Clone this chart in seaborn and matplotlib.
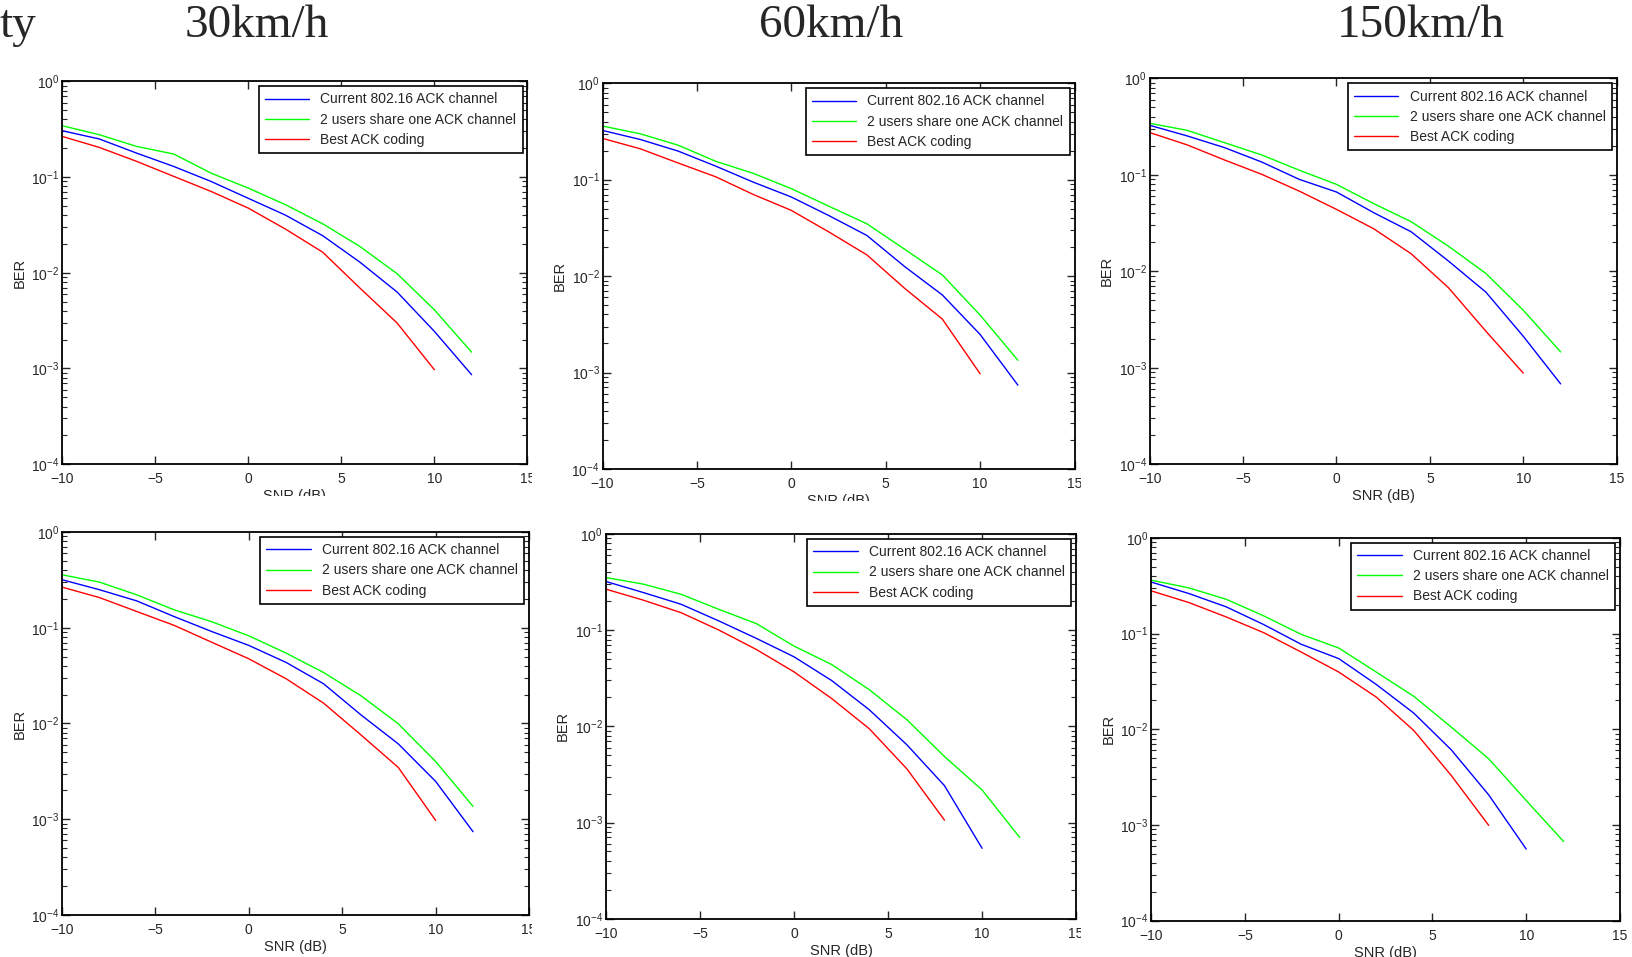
import numpy as np
import pandas as pd
import matplotlib
matplotlib.use('Agg')
import matplotlib.pyplot as plt
import seaborn as sns
from matplotlib.patches import Rectangle
from matplotlib.ticker import LogLocator, NullLocator, NullFormatter

snr = [-10, -8, -6, -4, -2, 0, 2, 4, 6, 8, 10, 12]
schemes = ['Current 802.16 ACK channel', '2 users share one ACK channel', 'Best ACK coding']
speeds = ['30km/h', '60km/h', '150km/h']

# top row
cur_30a = [0.305, 0.25, 0.178, 0.129, 0.090, 0.060, 0.040, 0.0244, 0.0129, 0.00628, 0.00244, 0.00086]
two_30a = [0.344, 0.277, 0.209, 0.174, 0.110, 0.0767, 0.0514, 0.0325, 0.0188, 0.00977, 0.0041, 0.00148]
best_30a = [0.266, 0.204, 0.146, 0.1016, 0.0708, 0.0474, 0.0286, 0.0164, 0.00692, 0.00298, 0.00097]

cur_60a = [0.324, 0.261, 0.198, 0.138, 0.094, 0.0661, 0.0423, 0.0264, 0.01256, 0.00637, 0.00248, 0.00074]
two_60a = [0.36, 0.299, 0.228, 0.155, 0.116, 0.0807, 0.0529, 0.0349, 0.019, 0.01028, 0.00394, 0.00134]
best_60a = [0.268, 0.209, 0.149, 0.107, 0.070, 0.048, 0.0286, 0.0166, 0.00747, 0.00358, 0.00097]

cur_150a = [0.327, 0.254, 0.192, 0.136, 0.090, 0.0665, 0.0405, 0.0257, 0.01276, 0.00608, 0.00212, 0.00068]
two_150a = [0.343, 0.29, 0.216, 0.161, 0.112, 0.0798, 0.0503, 0.0327, 0.0182, 0.0095, 0.00395, 0.00146]
best_150a = [0.275, 0.205, 0.143, 0.1014, 0.068, 0.0439, 0.0276, 0.0152, 0.00675, 0.00239, 0.00088]

# bottom row
cur_30b = [0.318, 0.25, 0.191, 0.131, 0.0916, 0.0654, 0.0434, 0.026, 0.0123, 0.00612, 0.00248, 0.00074]
two_30b = [0.358, 0.300, 0.221, 0.154, 0.116, 0.0824, 0.0543, 0.0341, 0.0195, 0.00992, 0.0040, 0.00136]
best_30b = [0.266, 0.207, 0.148, 0.106, 0.0708, 0.0474, 0.0293, 0.0163, 0.0076, 0.00347, 0.00097]

cur_60b = [0.321, 0.246, 0.186, 0.125, 0.0822, 0.0529, 0.030, 0.0149, 0.00644, 0.00242, 0.00054]
two_60b = [0.353, 0.301, 0.236, 0.165, 0.117, 0.0684, 0.044, 0.0241, 0.01174, 0.00486, 0.00218, 0.00070]
best_60b = [0.267, 0.205, 0.152, 0.1005, 0.063, 0.0369, 0.0195, 0.00946, 0.00362, 0.00106]

cur_150b = [0.345, 0.262, 0.190, 0.124, 0.0772, 0.0547, 0.0294, 0.01476, 0.0061, 0.00206, 0.00056]
two_150b = [0.361, 0.300, 0.228, 0.153, 0.098, 0.0706, 0.0396, 0.0221, 0.01054, 0.00491, 0.0018, 0.00067]
best_150b = [0.279, 0.211, 0.149, 0.102, 0.064, 0.0396, 0.0217, 0.00972, 0.00329, 0.00099]

panels = [
    [(cur_30a, two_30a, best_30a), (cur_60a, two_60a, best_60a), (cur_150a, two_150a, best_150a)],
    [(cur_30b, two_30b, best_30b), (cur_60b, two_60b, best_60b), (cur_150b, two_150b, best_150b)],
]

# axes rectangles [left, bottom, width, height] in figure fraction
positions = [
    [[0.038, 0.515, 0.285, 0.400], [0.369, 0.510, 0.289, 0.403], [0.704, 0.515, 0.286, 0.403]],
    [[0.038, 0.044, 0.286, 0.400], [0.371, 0.040, 0.288, 0.402], [0.705, 0.038, 0.287, 0.400]],
]

palette = {schemes[0]: '#0000ff', schemes[1]: '#00ff00', schemes[2]: '#ff0000'}

sns.set_style('ticks')
plt.rcParams['font.family'] = ['Liberation Sans', 'DejaVu Sans']
plt.rcParams['mathtext.default'] = 'regular'
plt.rcParams['axes.linewidth'] = 1.3

fig = plt.figure(figsize=(16.33, 9.57), dpi=100)

for r in range(2):
    for c in range(3):
        rows = []
        for name, vals in zip(schemes, panels[r][c]):
            for x, v in zip(snr, vals):
                rows.append({'snr': x, 'ber': v, 'scheme': name})
        df = pd.DataFrame(rows)
        ax = fig.add_axes(positions[r][c])
        sns.lineplot(data=df, x='snr', y='ber', hue='scheme', hue_order=schemes,
                     palette=palette, linewidth=1.0, ax=ax, sort=False)
        ax.set_yscale('log')
        ax.set_ylim(1e-4, 1)
        ax.set_xlim(-10, 15)
        ax.set_xticks([-10, -5, 0, 5, 10, 15])
        ax.yaxis.set_major_locator(LogLocator(base=10, numticks=10))
        ax.yaxis.set_minor_locator(LogLocator(base=10, subs=np.arange(2, 10), numticks=10))
        ax.yaxis.set_minor_formatter(NullFormatter())
        ax.xaxis.set_minor_locator(NullLocator())
        ax.tick_params(which='both', direction='in', top=True, right=True, labelsize=10)
        ax.tick_params(axis='x', pad=6)
        ax.tick_params(axis='y', pad=2)
        ax.tick_params(which='major', length=6, width=1)
        ax.tick_params(which='minor', length=3.5, width=0.8)
        for s in ax.spines.values():
            s.set_color('black')
        ax.set_xlabel('SNR (dB)', fontsize=10.5, labelpad=2)
        ax.set_ylabel('BER', fontsize=10.5)
        ax.yaxis.set_label_coords(-0.076, 0.5)
        leg = ax.legend(loc='upper right', fontsize=10, frameon=True, fancybox=False,
                        framealpha=1, edgecolor='black', handlelength=3.2,
                        labelspacing=0.45, borderaxespad=0.35, borderpad=0.45)
        leg.get_frame().set_linewidth(1.2)
        leg.set_title(None)

# speed headings
fig.text(0.0, 0.973, 'ty', ha='left', va='center', fontsize=34, family='Liberation Serif')
for x, s in zip([0.157, 0.509, 0.870], speeds):
    fig.text(x, 0.973, s, ha='center', va='center', fontsize=34, family='Liberation Serif')

# panels were pasted as cropped screenshots
fig.add_artist(Rectangle((0.3257, 0), 0.0065, 1, transform=fig.transFigure,
                         facecolor='white', edgecolor='none', zorder=20))
fig.add_artist(Rectangle((0.662, 0), 0.005, 1, transform=fig.transFigure,
                         facecolor='white', edgecolor='none', zorder=20))
fig.add_artist(Rectangle((0, 0.460), 0.3257, 0.022, transform=fig.transFigure,
                         facecolor='white', edgecolor='none', zorder=20))
fig.add_artist(Rectangle((0.3257, 0.455), 0.3405, 0.022, transform=fig.transFigure,
                         facecolor='white', edgecolor='none', zorder=20))

fig.savefig('out.png', dpi=100, facecolor='white')
